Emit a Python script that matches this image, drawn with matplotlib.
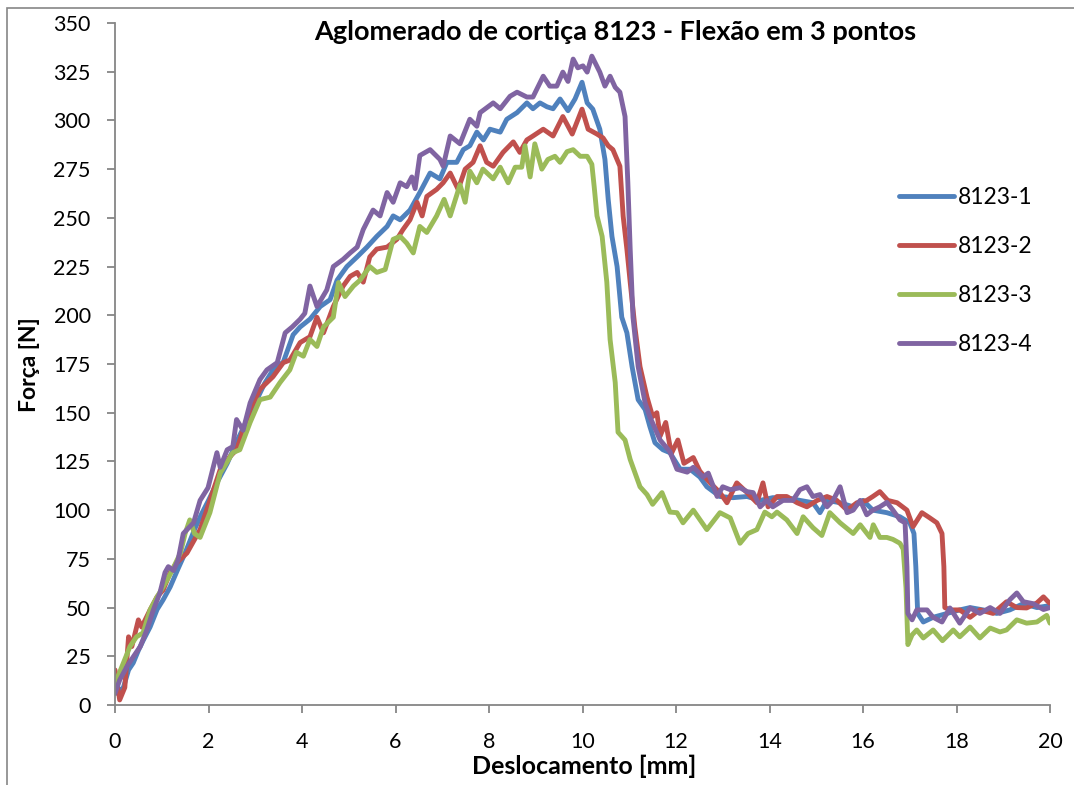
import matplotlib
matplotlib.use("Agg")
import matplotlib.pyplot as plt
from matplotlib.patches import Rectangle

# (deslocamento [mm], força [N])
s1 = [(0, 8), (0.04, 6), (0.18, 9), (0.29, 18), (0.39, 21.6), (0.5, 28), (0.6, 33), (0.75, 40),
      (0.9, 49), (1.03, 54), (1.18, 60.6), (1.35, 70), (1.5, 78), (1.7, 90), (1.85, 98), (2.0, 105),
      (2.2, 115), (2.4, 124), (2.6, 135), (2.8, 145), (3.0, 155), (3.2, 165), (3.38, 172), (3.6, 176),
      (3.81, 190), (3.96, 194), (4.17, 198), (4.39, 204.5), (4.6, 208), (4.75, 218), (4.96, 225),
      (5.18, 230), (5.39, 235), (5.6, 240.5), (5.82, 245.6), (5.95, 251), (6.1, 249), (6.31, 254),
      (6.52, 263), (6.74, 273), (6.95, 270), (7.1, 278.5), (7.31, 278.5), (7.45, 285), (7.59, 287),
      (7.74, 294), (7.88, 290), (8.02, 295.5), (8.24, 294), (8.38, 300.6), (8.6, 304), (8.81, 309),
      (8.94, 306), (9.09, 309), (9.24, 307), (9.37, 306), (9.52, 311), (9.69, 305), (9.84, 311),
      (9.99, 319.6), (10.1, 309), (10.22, 305.8), (10.37, 295.5), (10.48, 280), (10.55, 259.5),
      (10.63, 240.5), (10.74, 225), (10.84, 199), (10.95, 191), (11.06, 173.7), (11.19, 156.7),
      (11.34, 151.6), (11.44, 143), (11.55, 134.6), (11.72, 131), (11.87, 129.5), (12.09, 121),
      (12.3, 121), (12.51, 117), (12.66, 112), (12.94, 107), (13.22, 106.4), (13.52, 107), (13.8, 105),
      (14.07, 106.4), (14.37, 106.4), (14.65, 105), (14.93, 103.8), (15.08, 98.7), (15.23, 105),
      (15.51, 103.8), (15.79, 101.7), (16.0, 105), (16.21, 100), (16.51, 98.7), (16.79, 96.6),
      (17.0, 93.5), (17.09, 88), (17.13, 71), (17.17, 47), (17.29, 42.6), (17.5, 45), (17.8, 47),
      (18.07, 48.8), (18.29, 50), (18.57, 48.8), (18.86, 47), (19.14, 48.8), (19.43, 52), (19.72, 50),
      (20.0, 51)]

s2 = [(0, 18), (0.1, 2.6), (0.21, 9), (0.29, 35), (0.36, 30), (0.5, 43.7), (0.57, 40), (0.75, 48.8),
      (0.9, 55.5), (1.03, 59), (1.18, 68), (1.32, 73), (1.54, 78), (1.82, 90), (2.03, 105),
      (2.25, 120.8), (2.46, 127.5), (2.6, 131), (2.89, 151.6), (3.1, 162), (3.38, 168.5), (3.6, 175.7),
      (3.74, 177), (3.96, 186), (4.17, 189), (4.32, 199), (4.46, 191), (4.67, 204.5), (4.88, 215),
      (5.03, 220), (5.18, 222), (5.31, 217), (5.45, 230), (5.6, 234), (5.82, 235), (6.03, 239),
      (6.16, 244), (6.31, 249), (6.46, 258), (6.57, 251), (6.67, 261), (6.88, 264.6), (7.02, 268),
      (7.17, 273), (7.34, 264.6), (7.49, 275), (7.66, 278.5), (7.81, 287), (7.95, 278.5), (8.09, 276.5),
      (8.3, 283.6), (8.52, 289), (8.66, 283.6), (8.81, 290), (8.94, 292), (9.16, 295.5), (9.37, 292),
      (9.58, 302), (9.78, 293), (9.99, 305.8), (10.12, 295.5), (10.31, 293), (10.44, 291), (10.55, 287),
      (10.65, 285), (10.8, 276.5), (10.87, 250.8), (10.95, 233.8), (11.02, 217), (11.12, 194),
      (11.23, 173.7), (11.38, 158), (11.5, 148), (11.59, 150), (11.66, 138), (11.78, 145), (11.9, 129),
      (12.04, 136), (12.17, 124), (12.37, 127), (12.51, 120), (12.73, 114), (12.94, 109), (13.09, 103.8),
      (13.3, 114), (13.52, 109), (13.73, 103.8), (13.86, 114), (13.97, 101.7), (14.16, 107),
      (14.37, 107), (14.59, 103.8), (14.8, 101.7), (15.02, 105), (15.23, 107), (15.44, 105),
      (15.66, 100), (15.87, 103.8), (16.08, 105), (16.21, 107), (16.36, 109.5), (16.53, 105),
      (16.73, 103.8), (16.94, 100), (17.07, 91.5), (17.26, 98.7), (17.43, 96), (17.58, 93.5),
      (17.69, 88), (17.73, 71), (17.75, 50), (17.86, 48.8), (18.07, 48.8), (18.29, 45), (18.5, 48.8),
      (18.78, 47), (19.07, 53), (19.29, 50), (19.5, 49.8), (19.72, 52.4), (19.86, 55.5), (20.0, 52)]

s3 = [(0, 11), (0.18, 21.6), (0.32, 30), (0.46, 35), (0.6, 37), (0.75, 48.8), (0.9, 55.5),
      (1.03, 60.6), (1.2, 68), (1.4, 78), (1.5, 88), (1.6, 95), (1.7, 88), (1.82, 86), (2.03, 98.7),
      (2.25, 119), (2.52, 129.5), (2.67, 131), (2.89, 145), (3.1, 156.7), (3.32, 158), (3.53, 165.5),
      (3.74, 172), (3.88, 181), (4.03, 179), (4.17, 187.6), (4.32, 184), (4.46, 194), (4.67, 199),
      (4.78, 216.8), (4.92, 209.6), (5.1, 215), (5.24, 218), (5.45, 225), (5.6, 222), (5.78, 223.5),
      (5.95, 239), (6.1, 240.5), (6.24, 237), (6.38, 232), (6.52, 245.6), (6.67, 242.5), (6.88, 251),
      (7.04, 259.5), (7.17, 251), (7.38, 267), (7.49, 258), (7.59, 274), (7.74, 268), (7.87, 275),
      (8.09, 270), (8.24, 276), (8.41, 268), (8.56, 276), (8.7, 276), (8.77, 287), (8.88, 271),
      (8.98, 288), (9.13, 275), (9.26, 280), (9.41, 281.6), (9.52, 278.5), (9.67, 284), (9.8, 285),
      (9.95, 281.6), (10.1, 281.6), (10.2, 277.5), (10.25, 266), (10.31, 251), (10.42, 240.5),
      (10.52, 217), (10.59, 187.6), (10.7, 165.5), (10.76, 140), (10.91, 136), (11.02, 126),
      (11.23, 112), (11.38, 108), (11.5, 103), (11.7, 109), (11.87, 99), (12.02, 98.7), (12.15, 93.5),
      (12.37, 100), (12.66, 90), (12.94, 98.7), (13.16, 96), (13.37, 83), (13.54, 88), (13.73, 90),
      (13.9, 99), (14.05, 96.6), (14.16, 99), (14.37, 95), (14.59, 88), (14.72, 96.6), (14.93, 91),
      (15.12, 87), (15.29, 98.7), (15.51, 93.5), (15.79, 88), (15.94, 92.5), (16.15, 86), (16.22, 92.5),
      (16.36, 86), (16.51, 86), (16.64, 85), (16.79, 83), (16.86, 80), (16.92, 60), (16.96, 31),
      (17.05, 36), (17.15, 38.5), (17.29, 34.4), (17.5, 38.5), (17.7, 33), (17.93, 38.5), (18.07, 35),
      (18.29, 40), (18.5, 34.4), (18.72, 39.5), (18.93, 37.5), (19.07, 38.5), (19.29, 43.7), (19.5, 42),
      (19.72, 42.6), (19.93, 46), (20.0, 42)]

s4 = [(0, 6), (0.1, 12.8), (0.25, 19.5), (0.39, 24.7), (0.54, 30), (0.68, 38.5), (0.82, 48.8),
      (0.96, 57.5), (1.07, 68), (1.14, 71), (1.25, 69), (1.35, 74.5), (1.46, 88), (1.68, 93.5),
      (1.82, 105), (1.99, 111.5), (2.18, 129.5), (2.25, 122), (2.4, 131), (2.52, 132.6), (2.6, 146.5),
      (2.74, 141), (2.89, 155), (3.1, 167), (3.25, 172), (3.47, 175.7), (3.64, 191), (3.79, 194),
      (3.96, 198), (4.06, 201), (4.17, 215), (4.32, 204.5), (4.53, 213), (4.67, 225), (4.88, 228.7),
      (5.03, 232), (5.18, 235), (5.31, 244), (5.52, 254), (5.67, 251), (5.82, 263), (5.95, 258),
      (6.1, 268), (6.24, 266), (6.35, 271), (6.42, 265), (6.52, 282), (6.74, 285), (6.95, 280),
      (7.02, 276.5), (7.17, 292), (7.38, 288), (7.59, 300.6), (7.74, 297), (7.81, 304), (8.09, 309),
      (8.24, 306), (8.45, 312.4), (8.6, 314.5), (8.81, 312), (8.94, 312), (9.16, 322.7), (9.3, 317.6),
      (9.45, 317.6), (9.58, 324.8), (9.69, 320), (9.8, 331.5), (9.9, 327), (10.01, 328), (10.1, 324.8),
      (10.2, 333), (10.37, 324.8), (10.48, 317.6), (10.59, 322.7), (10.7, 317), (10.8, 314.5),
      (10.91, 302), (10.97, 268), (11.02, 234), (11.08, 199), (11.19, 173.7), (11.34, 155),
      (11.44, 148), (11.66, 136), (11.87, 130), (12.02, 121), (12.24, 119.5), (12.37, 122),
      (12.58, 117), (12.69, 119), (12.88, 107), (13.0, 112), (13.16, 110.5), (13.37, 111.5),
      (13.52, 109.5), (13.65, 109), (13.8, 101.7), (13.94, 105), (14.07, 101.7), (14.29, 105),
      (14.5, 105), (14.65, 110.5), (14.8, 112), (14.93, 107), (15.08, 108), (15.23, 101.7),
      (15.36, 105), (15.51, 112), (15.66, 98.7), (15.79, 100), (15.94, 105), (16.08, 97.6),
      (16.21, 100), (16.36, 101.7), (16.51, 104), (16.64, 100), (16.79, 95), (16.9, 93.5),
      (16.94, 71), (16.96, 47), (17.05, 43.7), (17.15, 48.8), (17.37, 48.8), (17.5, 45), (17.69, 42.6),
      (17.86, 49.8), (18.07, 42), (18.29, 49.8), (18.5, 47), (18.72, 50), (18.93, 47), (19.14, 54),
      (19.29, 57.5), (19.43, 53), (19.64, 52), (19.86, 49), (20.0, 50)]

labels = ["8123-1", "8123-2", "8123-3", "8123-4"]
colors = ["#4F81BD", "#C0504D", "#9BBB59", "#8064A2"]

GRAY = "#868686"
plt.rcParams["font.family"] = ["Lato", "DejaVu Sans"]

fig = plt.figure(figsize=(10.74, 7.85), dpi=100)
ax = fig.add_axes([115 / 1074, 1 - 705 / 785, 935 / 1074, 682 / 785])

for data, lab, col in zip((s1, s2, s3, s4), labels, colors):
    xs = [p[0] for p in data]
    ys = [p[1] for p in data]
    ax.plot(xs, ys, color=col, lw=3.5, label=lab,
            solid_joinstyle="round", solid_capstyle="round")

ax.set_xlim(0, 20)
ax.set_ylim(0, 350)
ax.set_xticks(range(0, 21, 2))
ax.set_yticks(range(0, 351, 25))
for side in ("top", "right"):
    ax.spines[side].set_visible(False)
for side in ("left", "bottom"):
    ax.spines[side].set_color(GRAY)
    ax.spines[side].set_linewidth(1.3)
ax.tick_params(axis="both", colors=GRAY, labelcolor="black", length=5.5, width=1.3,
               labelsize=15.5)
ax.tick_params(axis="y", pad=12)
ax.tick_params(axis="x", pad=14)

fig.text(615 / 1074, 1 - 32 / 785, "Aglomerado de cortiça 8123 - Flexão em 3 pontos",
         ha="center", va="center", fontsize=19.5, fontweight="bold")
fig.text(584 / 1074, 1 - 766 / 785, "Deslocamento [mm]", ha="center", va="center",
         fontsize=18, fontweight="bold")
fig.text(30 / 1074, 1 - 365 / 785, "Força [N]", ha="center", va="center", rotation=90,
         fontsize=16.5, fontweight="bold")

ax.legend(loc="upper left", bbox_to_anchor=(888 / 1074, 1 - 176 / 785),
          bbox_transform=fig.transFigure, frameon=False, fontsize=16.5,
          handlelength=2.36, handletextpad=0.17, labelspacing=1.21, borderpad=0)

fig.patches.append(Rectangle((7 / 1074, -0.1), 1.2, (1 - 8 / 785) + 0.1,
                             transform=fig.transFigure, fill=False, ec=GRAY, lw=1.2))

fig.savefig("out.png", dpi=100)
